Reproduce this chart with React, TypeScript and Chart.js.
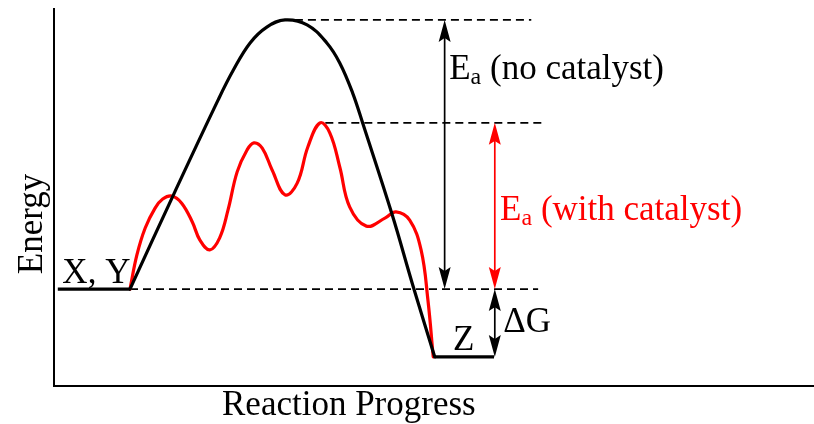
import { useEffect, useRef } from "react";
import { Chart, registerables } from "chart.js";

Chart.register(...registerables);

// Reaction progress (0-100) and energy (0-100)
const progressNoCat = [10.0, 15.9, 21.6, 23.6, 25.8, 28.0, 30.4, 33.3, 35.9, 37.6, 39.3, 40.7, 44.5, 47.2, 50.1];
const energyNoCat = [25.7, 51.5, 75.9, 83.8, 91.0, 95.2, 97.1, 95.8, 91.0, 85.7, 77.7, 69.2, 45.4, 26.8, 7.7];

const progressCat = [10.0, 10.9, 12.0, 13.3, 14.3, 15.5, 16.8, 18.2, 19.2, 20.5, 21.8, 22.9, 24.1, 25.4, 26.3, 27.4, 28.7, 30.4, 32.0, 33.4, 35.0, 36.3, 37.6, 38.9, 41.1, 43.6, 45.0, 46.8, 48.3, 49.2, 49.9];
const energyCat = [25.7, 34.7, 41.9, 47.2, 49.6, 50.4, 48.5, 43.5, 38.7, 36.1, 39.3, 46.7, 56.8, 62.6, 64.5, 63.1, 57.3, 50.7, 53.8, 63.4, 69.8, 67.1, 58.1, 47.5, 42.4, 44.6, 46.2, 44.0, 36.1, 22.8, 7.7];

const reactantProgress = [0.5, 10.0];
const productProgress = [50.1, 57.9];
const reactantEnergy = 25.7;
const productEnergy = 7.7;
const peakNoCat = 97.1;
const peakCat = 69.8;

// dashed reference lines: [start, end] progress
const dashTop = [31.7, 62.8];
const dashMid = [35.7, 64.7];
const dashBase = [10.0, 63.7];

const arrowNoCatX = 51.4;
const arrowCatX = 58.0;

const labels = {
  reactants: "X, Y",
  product: "Z",
  deltaG: "ΔG",
  eaNoCat: " (no catalyst)",
  eaCat: " (with catalyst)",
  xTitle: "Reaction Progress",
  yTitle: "Energy",
};

const pts = (xs: number[], ys: number[]) => xs.map((x, i) => ({ x, y: ys[i] }));
const flat = (xs: number[], y: number) => xs.map((x) => ({ x, y }));

const FONT = '"Liberation Serif", "Times New Roman", serif';

function arrowHead(ctx: CanvasRenderingContext2D, x: number, yTip: number, dir: number) {
  // dir = -1: points up, +1: points down
  const L = 22;
  const W = 6;
  ctx.beginPath();
  ctx.moveTo(x, yTip);
  ctx.lineTo(x - W, yTip - dir * L);
  ctx.lineTo(x, yTip - dir * L * 0.82);
  ctx.lineTo(x + W, yTip - dir * L);
  ctx.closePath();
  ctx.fill();
}

function doubleArrow(ctx: CanvasRenderingContext2D, x: number, yTop: number, yBot: number, color: string) {
  ctx.strokeStyle = color;
  ctx.fillStyle = color;
  ctx.lineWidth = 1.7;
  ctx.beginPath();
  ctx.moveTo(x, yTop + 10);
  ctx.lineTo(x, yBot - 10);
  ctx.stroke();
  arrowHead(ctx, x, yTop, -1);
  arrowHead(ctx, x, yBot, 1);
}

function eaLabel(ctx: CanvasRenderingContext2D, x: number, y: number, rest: string, color: string) {
  ctx.fillStyle = color;
  ctx.textAlign = "left";
  ctx.textBaseline = "alphabetic";
  ctx.font = `35px ${FONT}`;
  ctx.fillText("E", x, y);
  let cx = x + ctx.measureText("E").width;
  ctx.font = `24px ${FONT}`;
  ctx.fillText("a", cx, y + 5);
  cx += ctx.measureText("a").width;
  ctx.font = `35px ${FONT}`;
  ctx.fillText(rest, cx, y);
}

const annotPlugin = {
  id: "annot",
  afterDatasetsDraw(chart: any) {
    const { ctx, scales, chartArea } = chart;
    const px = (v: number) => scales.x.getPixelForValue(v);
    const py = (v: number) => scales.y.getPixelForValue(v);
    ctx.save();
    doubleArrow(ctx, px(arrowNoCatX), py(peakNoCat), py(reactantEnergy), "#000000");
    doubleArrow(ctx, px(arrowCatX), py(peakCat), py(reactantEnergy), "#ff0000");
    doubleArrow(ctx, px(arrowCatX), py(reactantEnergy), py(productEnergy), "#000000");

    ctx.font = `35px ${FONT}`;
    ctx.fillStyle = "#000";
    ctx.textAlign = "left";
    ctx.textBaseline = "alphabetic";
    ctx.fillText(labels.reactants, px(1.1), py(27.3));
    ctx.fillText(labels.product, px(52.5), py(9.5));
    ctx.fillText(labels.deltaG, px(59.1), py(14.3));

    eaLabel(ctx, px(52.0), py(81.4), labels.eaNoCat, "#000000");
    eaLabel(ctx, px(58.7), py(44.0), labels.eaCat, "#ff0000");

    // axis titles
    ctx.fillStyle = "#000";
    ctx.font = `35px ${FONT}`;
    ctx.textAlign = "left";
    ctx.fillText(labels.xTitle, chartArea.left + 168, chartArea.bottom + 29);
    ctx.save();
    ctx.translate(chartArea.left - 12, chartArea.top + 215);
    ctx.rotate(-Math.PI / 2);
    ctx.textAlign = "center";
    ctx.fillText(labels.yTitle, 0, 0);
    ctx.restore();
    ctx.restore();
  },
};

export default function App() {
  const ref = useRef<HTMLCanvasElement | null>(null);
  useEffect(() => {
    if (!ref.current) return;
    const dashed = (xs: number[], y: number) => ({
      data: flat(xs, y),
      borderColor: "#000",
      borderWidth: 1.8,
      borderDash: [8, 5],
      pointRadius: 0,
      tension: 0,
      order: 3,
    });
    const chart = new Chart(ref.current, {
      type: "line",
      data: {
        datasets: [
          {
            data: pts(progressNoCat, energyNoCat),
            borderColor: "#000",
            borderWidth: 3.2,
            pointRadius: 0,
            tension: 0.4,
            borderCapStyle: "round",
            order: 0,
          },
          {
            data: flat(reactantProgress, reactantEnergy),
            borderColor: "#000",
            borderWidth: 3.2,
            pointRadius: 0,
            tension: 0,
            order: 0,
          },
          {
            data: flat(productProgress, productEnergy),
            borderColor: "#000",
            borderWidth: 3.2,
            pointRadius: 0,
            tension: 0,
            order: 0,
          },
          {
            data: pts(progressCat, energyCat),
            borderColor: "#ff0000",
            borderWidth: 3.2,
            pointRadius: 0,
            tension: 0.4,
            borderCapStyle: "round",
            order: 1,
          },
          dashed(dashTop, peakNoCat),
          dashed(dashMid, peakCat),
          dashed(dashBase, reactantEnergy),
        ] as any,
      },
      options: {
        animation: false,
        responsive: false,
        layout: { padding: { left: 54, top: 9, right: 0, bottom: 38 } },
        plugins: { legend: { display: false }, tooltip: { enabled: false } },
        scales: {
          x: {
            type: "linear",
            min: 0,
            max: 100,
            grid: { display: false, drawTicks: false },
            ticks: { display: false },
            border: { display: true, color: "#000", width: 2 },
            afterFit: (s: any) => {
              s.height = 0;
            },
          },
          y: {
            type: "linear",
            min: 0,
            max: 100,
            grid: { display: false, drawTicks: false },
            ticks: { display: false },
            border: { display: true, color: "#000", width: 2 },
            afterFit: (s: any) => {
              s.width = 0;
            },
          },
        },
      } as any,
      plugins: [annotPlugin],
    });
    return () => chart.destroy();
  }, []);
  return (
    <div style={{ position: "absolute", left: 0, top: 0, width: 814, height: 424, background: "#fff" }}>
      <canvas ref={ref} width={814} height={424} />
    </div>
  );
}
